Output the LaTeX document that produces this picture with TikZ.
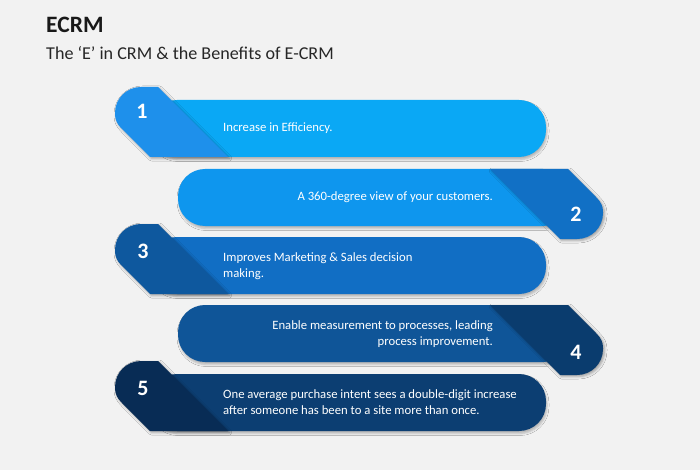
\documentclass[tikz,border=0pt]{standalone}
\usepackage{fontspec}
\setmainfont{Carlito}
\usetikzlibrary{shadows.blur}
\definecolor{bgc}{RGB}{242,242,242}
\definecolor{barA}{RGB}{10,168,245}
\definecolor{tabA}{RGB}{30,144,235}
\definecolor{barB}{RGB}{14,150,238}
\definecolor{tabB}{RGB}{17,112,197}
\definecolor{barC}{RGB}{17,110,196}
\definecolor{tabC}{RGB}{14,88,158}
\definecolor{barD}{RGB}{15,85,152}
\definecolor{tabD}{RGB}{10,60,110}
\definecolor{barE}{RGB}{12,62,114}
\definecolor{tabE}{RGB}{8,44,85}
\newcommand{\mytabpath}{(35,0) -- (7,-28) .. controls (2,-33) and (0,-37) .. (0,-43) -- (0,-44) .. controls (0,-58.5) and (11.5,-70) .. (26,-70) -- (43,-70) -- (113,0) -- cycle}
\tikzset{
  barshape/.style={rounded corners=27pt, blur shadow={shadow xshift=1pt, shadow yshift=-2.5pt, shadow blur radius=2pt, shadow opacity=25}},
  tabshape/.style={blur shadow={shadow xshift=1.5pt, shadow yshift=-1.5pt, shadow blur radius=2.5pt, shadow opacity=35}},
  numtext/.style={text=white, font=\fontsize{22}{24}\selectfont\bfseries, inner sep=0pt},
  bodyL/.style={text=white, font=\fontsize{12.7}{16}\selectfont, anchor=west, align=left, inner sep=0pt},
  bodyR/.style={text=white, font=\fontsize{12.7}{16}\selectfont, anchor=east, align=right, inner sep=0pt}
}
\begin{document}
\begin{tikzpicture}[x=1pt,y=-1pt]
\fill[bgc] (0,0) rectangle (700,470);
\useasboundingbox (0,0) rectangle (700,470);
% titles
\node[anchor=base west, inner sep=0pt, text=black!90, font=\fontsize{23.5}{26}\selectfont\bfseries] (title) at (46,33) {ECRM};
\node[anchor=base west, inner sep=0pt, text=black!85, font=\fontsize{18.1}{20}\selectfont] (subtitle) at (46,60) {The ‘E’ in CRM \& the Benefits of E-CRM};
% band 1
\fill[barA, barshape] (150,100) rectangle (546,157);
\begin{scope}[shift={(115,157)}]
\fill[tabA, tabshape] \mytabpath;
\node[numtext] (n1) at (27,-46) {1};
\end{scope}
\node[bodyL] (t1) at (223,128.5) {Increase in Efficiency.};
% band 2
\fill[barB, barshape] (178,169) rectangle (570,226);
\begin{scope}[shift={(603,169)}, rotate=180]
\fill[tabB, tabshape] \mytabpath;
\node[numtext] (n2) at (27,-45) {2};
\end{scope}
\node[bodyR] (t2) at (493,197.5) {A 360-degree view of your customers.};
% band 3
\fill[barC, barshape] (150,237) rectangle (546,294);
\begin{scope}[shift={(115,294)}]
\fill[tabC, tabshape] \mytabpath;
\node[numtext] (n3) at (28,-43) {3};
\end{scope}
\node[bodyL] (t3) at (223,266) {Improves Marketing \& Sales decision\\making.};
% band 4
\fill[barD, barshape] (178,305) rectangle (570,362);
\begin{scope}[shift={(603,305)}, rotate=180]
\fill[tabD, tabshape] \mytabpath;
\node[numtext] (n4) at (27,-47) {4};
\end{scope}
\node[bodyR] (t4) at (493,334) {Enable measurement to processes, leading\\process improvement.};
% band 5
\fill[barE, barshape] (150,374) rectangle (546,431);
\begin{scope}[shift={(115,431)}]
\fill[tabE, tabshape] \mytabpath;
\node[numtext] (n5) at (28,-43) {5};
\end{scope}
\node[bodyL] (t5) at (223,402) {One average purchase intent sees a double-digit increase\\after someone has been to a site more than once.};
\end{tikzpicture}
\end{document}
